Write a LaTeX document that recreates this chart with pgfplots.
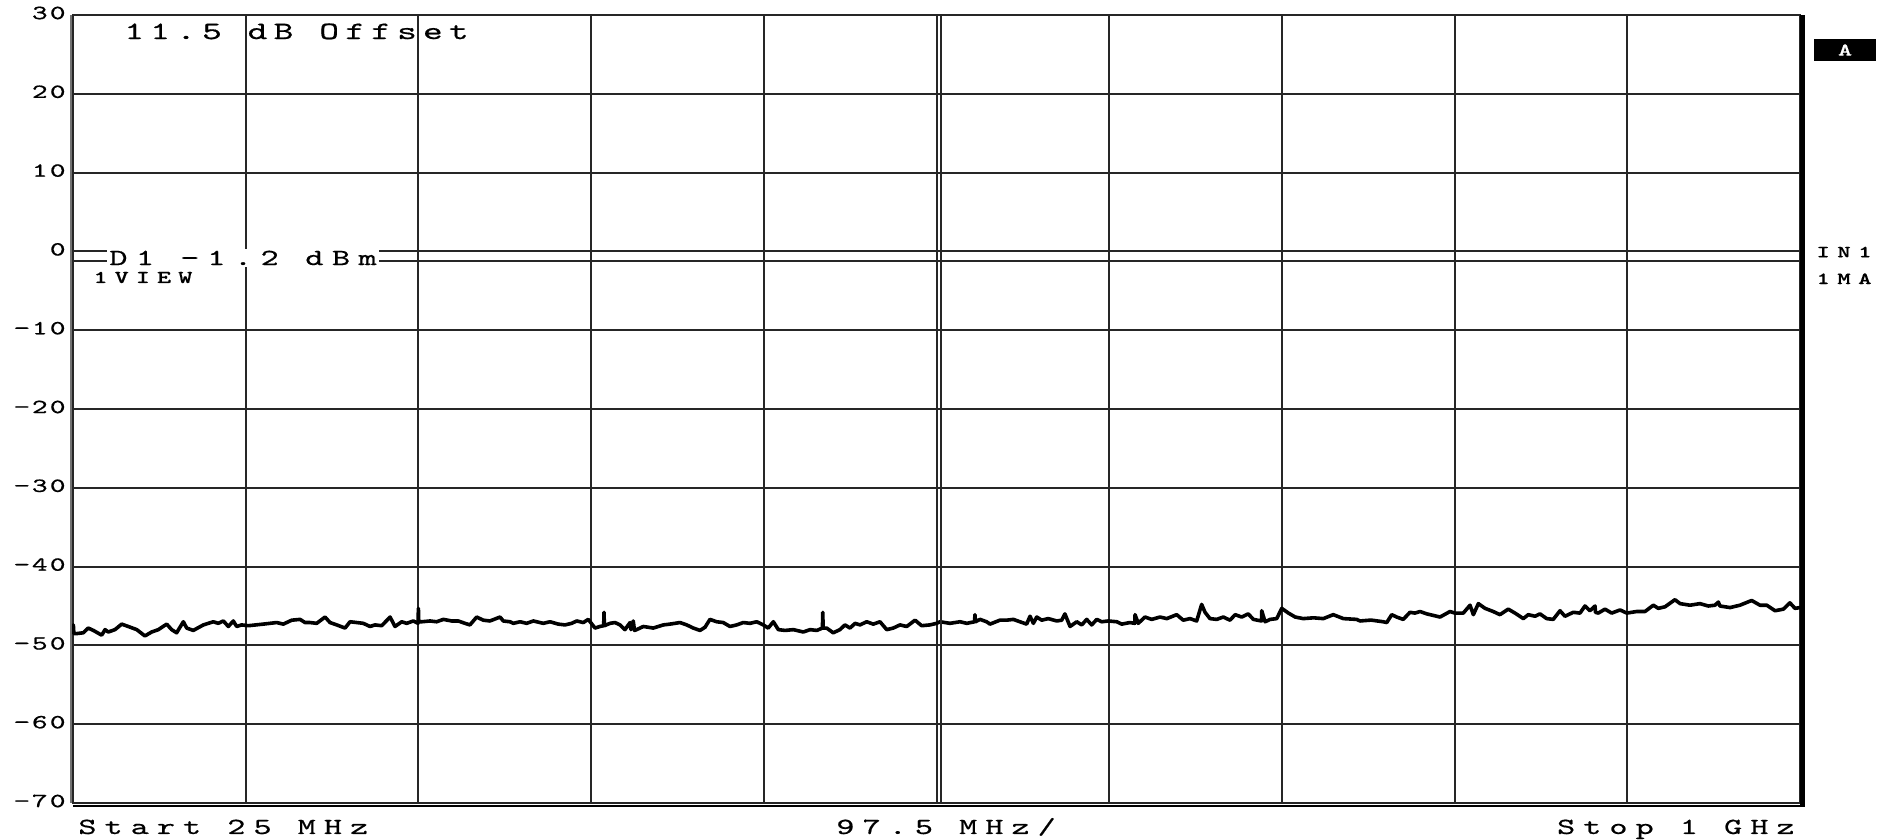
\documentclass[border=0pt]{standalone}
\usepackage{fontspec}
\usepackage{pgfplots}
\pgfplotsset{compat=1.18}
\newfontfamily\hp{lmmono10-regular.otf}[FakeStretch=1.5, FakeBold=0.6]
\newfontfamily\hpb{lmmonolt10-bold.otf}[FakeStretch=1.5, FakeBold=0.4]
% size, letter space, text
\newcommand\hpt[3]{{\hp\fontsize{#1}{#1}\selectfont\addfontfeature{LetterSpace=#2}#3}}
\newcommand\hpbt[3]{{\hpb\fontsize{#1}{#1}\selectfont\addfontfeature{LetterSpace=#2}#3}}

\begin{document}
\begin{tikzpicture}
\useasboundingbox (-36.5pt,-18.5pt) rectangle (909pt,401.5pt);
\begin{axis}[
    width=863.5pt, height=394pt, scale only axis,
    xmin=25, xmax=1000, ymin=-70, ymax=30,
    xtick={122.5,220,317.5,415,512.5,610,707.5,805,902.5},
    xticklabels={},
    ytick={-70,-60,...,30},
    yticklabels={−70,−60,−50,−40,−30,−20,−10,0,10,20,30},
    yticklabel style={font=\hp\fontsize{10}{10}\selectfont\addfontfeature{LetterSpace=11},
        anchor=east, inner sep=0pt, xshift=-3.5pt, yshift=1pt},
    major tick length=0pt,
    grid=major,
    major grid style={black!85, line width=1pt},
    axis line style={black!85, line width=1pt},
    clip=false,
]
% reference level line D1
\addplot[black!85, line width=1pt] coordinates {(25,-1.2) (1000,-1.2)};

\addplot[black, line width=1.8pt, line join=round] coordinates {
(25.0,-48.4) (25.2,-47.4) (25.5,-48.5) (27.1,-48.5) (30.8,-48.4) (33.6,-47.8) (36.5,-48.1)
(41.2,-48.7) (43.1,-48.0) (44.9,-48.3) (48.7,-48.0) (52.5,-47.3) (56.2,-47.6) (61.0,-48.0)
(65.6,-48.8) (69.4,-48.3) (73.2,-48.0) (77.9,-47.3) (80.7,-48.0) (83.5,-48.4) (87.3,-47.0)
(89.2,-47.8) (92.9,-48.1) (98.6,-47.4) (104.2,-47.0) (107.0,-47.2) (109.9,-46.9) (112.7,-47.6)
(115.5,-46.9) (117.4,-47.6) (120.2,-47.4) (124.0,-47.5) (132.4,-47.3) (140.0,-47.1) (143.7,-47.3)
(148.5,-46.8) (153.2,-46.7) (156.0,-47.1) (158.8,-47.1) (162.6,-47.2) (167.3,-46.4) (170.1,-47.1)
(173.9,-47.4) (178.6,-47.8) (181.4,-47.0) (185.2,-47.1) (188.9,-47.2) (192.7,-47.6) (195.5,-47.4)
(199.3,-47.5) (204.0,-46.4) (206.8,-47.6) (210.6,-47.0) (213.4,-47.2) (217.1,-46.9) (219.8,-47.2)
(220.0,-45.3) (220.2,-47.0) (221.9,-47.0) (226.6,-46.9) (230.3,-47.0) (234.1,-46.7) (238.8,-46.9)
(242.5,-46.9) (246.3,-47.2) (249.1,-47.4) (252.9,-46.4) (256.6,-46.8) (260.4,-46.9) (266.1,-46.4)
(267.9,-46.9) (271.7,-47.0) (273.6,-47.2) (277.4,-47.0) (281.1,-47.2) (284.9,-46.9) (290.5,-47.2)
(294.3,-47.0) (299.0,-47.3) (302.8,-47.4) (306.5,-47.2) (309.4,-46.9) (313.1,-47.1) (315.9,-46.7)
(319.7,-47.8) (322.5,-47.6) (324.6,-47.5) (324.8,-45.8) (325.0,-47.5) (328.2,-47.2) (331.0,-47.1)
(333.8,-47.4) (336.6,-48.0) (339.5,-47.1) (340.0,-48.0) (341.3,-46.9) (342.0,-48.1) (343.2,-48.0)
(347.0,-47.6) (352.6,-47.8) (358.3,-47.4) (362.0,-47.3) (367.7,-47.1) (371.5,-47.4) (375.2,-47.8)
(379.0,-48.1) (381.8,-47.7) (384.6,-46.7) (388.4,-47.0) (392.1,-47.1) (395.9,-47.6) (399.7,-47.4)
(403.4,-47.1) (407.2,-47.2) (411.0,-47.0) (414.7,-47.4) (417.5,-47.8) (420.4,-47.0) (423.2,-48.0)
(427.0,-48.1) (431.7,-48.0) (437.3,-48.3) (441.1,-48.0) (444.9,-48.1) (448.1,-47.8) (448.3,-45.8)
(448.5,-47.8) (450.5,-47.8) (454.2,-48.4) (458.0,-48.0) (460.8,-47.4) (463.7,-47.8) (466.5,-47.2)
(469.3,-47.4) (473.1,-47.0) (476.8,-47.3) (480.6,-47.0) (484.4,-48.0) (488.1,-47.8) (491.9,-47.4)
(495.7,-47.6) (500.4,-46.8) (504.1,-47.5) (508.8,-47.4) (512.6,-47.2) (514.5,-47.0) (520.1,-47.2)
(525.8,-47.0) (529.6,-47.2) (534.0,-47.0) (534.2,-46.1) (534.5,-47.0) (537.1,-46.7) (540.8,-47.0)
(542.7,-47.3) (548.3,-46.8) (552.1,-46.8) (555.9,-46.7) (559.6,-47.0) (563.4,-47.3) (565.3,-46.3)
(567.2,-47.2) (569.1,-46.4) (571.9,-46.8) (575.6,-46.6) (580.4,-46.9) (583.2,-46.8) (585.0,-46.0)
(587.9,-47.6) (591.7,-47.0) (594.5,-47.4) (597.3,-46.7) (600.1,-47.4) (603.0,-46.7) (605.8,-47.0)
(609.5,-46.9) (614.3,-47.0) (617.1,-47.3) (621.7,-47.1) (624.4,-47.2) (624.6,-46.1) (626.4,-47.2)
(630.2,-46.4) (634.0,-46.7) (638.7,-46.4) (642.5,-46.6) (648.1,-46.1) (651.8,-46.8) (655.6,-46.6)
(659.4,-46.9) (662.2,-44.8) (664.1,-45.8) (666.9,-46.6) (670.7,-46.7) (674.4,-46.4) (678.2,-46.8)
(681.1,-46.1) (684.8,-46.4) (688.5,-46.0) (691.4,-46.7) (696.0,-46.9) (696.1,-45.6) (698.0,-47.0)
(700.9,-46.7) (704.6,-46.6) (707.4,-45.3) (711.2,-45.9) (715.0,-46.4) (719.6,-46.6) (725.3,-46.5)
(730.9,-46.6) (736.5,-46.1) (742.2,-46.6) (749.7,-46.7) (751.6,-46.9) (757.2,-46.8) (758.2,-46.8)
(764.7,-47.0) (766.7,-47.1) (769.5,-46.1) (772.3,-46.4) (776.0,-46.7) (779.8,-45.8) (782.6,-45.9)
(785.5,-45.7) (789.3,-46.0) (796.8,-46.4) (802.4,-45.7) (805.2,-45.9) (809.9,-45.9) (813.7,-44.9)
(815.6,-46.1) (818.4,-44.7) (822.2,-45.3) (826.8,-45.7) (830.6,-46.1) (835.3,-45.4) (839.1,-45.9)
(843.8,-46.6) (846.6,-46.1) (850.4,-46.3) (853.2,-46.0) (857.0,-46.6) (860.7,-46.7) (864.5,-45.6)
(867.3,-46.3) (872.0,-45.8) (875.8,-45.9) (878.6,-45.0) (881.4,-45.6) (884.3,-45.0) (884.5,-45.8)
(886.1,-45.9) (889.9,-45.4) (893.7,-45.9) (898.4,-45.5) (902.2,-45.9) (907.8,-45.7) (912.5,-45.7)
(917.2,-44.9) (920.0,-45.3) (923.8,-45.1) (929.4,-44.2) (932.3,-44.7) (937.9,-44.9) (943.5,-44.7)
(948.2,-45.0) (952.0,-44.9) (953.9,-44.5) (954.8,-45.0) (960.5,-45.2) (966.1,-44.9) (972.7,-44.3)
(977.4,-44.9) (981.2,-44.9) (985.9,-45.6) (990.6,-45.4) (994.3,-44.6) (997.2,-45.3) (1000,-45.2)
};

% frame details of the analyzer screen
\draw[black!55, line width=1pt] ([xshift=-1.2pt]rel axis cs:0,0) -- ([xshift=-1.2pt]rel axis cs:0,1);
\draw[black, line width=1pt] ([yshift=-1.5pt]rel axis cs:0,0) -- ([yshift=-1.5pt,xshift=2pt]rel axis cs:1,0);
\draw[black, line width=2.2pt] ([xshift=1.2pt,yshift=-2pt]rel axis cs:1,0) -- ([xshift=1.2pt]rel axis cs:1,1);
\draw[black!85, line width=1pt] ([xshift=2pt]axis cs:512.5,-70) -- ([xshift=2pt]axis cs:512.5,30);

\node[anchor=base west, inner sep=0pt] at (axis description cs:0.0295,0.9695) {\hpt{12.5}{25}{11.5 dB Offset}};
\node[anchor=base west, inner sep=1pt, fill=white] at (axis description cs:0.0197,0.6827) {\hpt{11.5}{37}{D1 −1.2 dBm}};
\node[anchor=base west, inner sep=0pt] at (axis description cs:0.0116,0.6599) {\hpbt{9}{39}{1VIEW}};
\node[anchor=base west, inner sep=0pt] at (axis description cs:0.0029,-0.0393) {\hpt{11.5}{35}{Start 25 MHz}};
\node[anchor=base west, inner sep=0pt] at (axis description cs:0.4418,-0.0393) {\hpt{11.5}{35}{97.5 MHz/}};
\node[anchor=base east, inner sep=0pt] at (axis description cs:0.9971,-0.0393) {\hpt{11.5}{35}{Stop 1 GHz}};
\node[anchor=base west, inner sep=0pt] at (axis description cs:1.0093,0.6925) {\hpbt{8.5}{44}{IN1}};
\node[anchor=base west, inner sep=0pt] at (axis description cs:1.0093,0.6586) {\hpbt{8.5}{44}{1MA}};
\node[fill=black, minimum width=31pt, minimum height=11pt, inner sep=0pt, text=white]
    at (axis description cs:1.0261,0.9556) {\hpbt{9}{0}{A}};
\end{axis}
\end{tikzpicture}
\end{document}
